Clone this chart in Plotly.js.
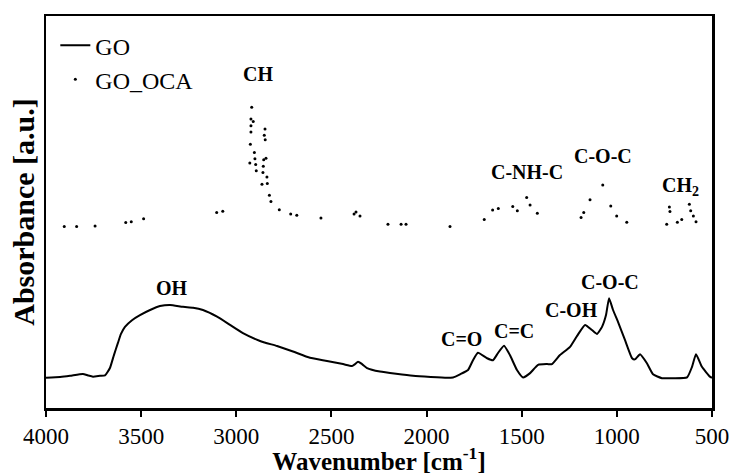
<!DOCTYPE html>
<html>
<head>
<meta charset="utf-8">
<script src="https://cdn.plot.ly/plotly-3.0.1.min.js"></script>
<style>
  html, body { margin: 0; padding: 0; background: #fff; }
  #chart { width: 731px; height: 475px; }
</style>
</head>
<body>
<div id="chart"></div>
<script>
// FTIR spectra: graphene oxide (solid curve) and GO_OCA (scattered points)
const goWavenumber = [
  4000, 3926, 3874, 3806, 3779, 3753, 3716, 3690, 3664, 3643, 3622, 3606, 3585,
  3548, 3506, 3453, 3401, 3348, 3280, 3227, 3175, 3101, 3033, 2965, 2875, 2786,
  2702, 2613, 2523, 2439, 2392, 2376, 2360, 2339, 2313, 2245, 2071, 1893, 1861,
  1824, 1782, 1756, 1730, 1682, 1651, 1625, 1593, 1562, 1525, 1493, 1456, 1414,
  1367, 1341, 1299, 1246, 1209, 1167, 1131, 1104, 1078, 1057, 1041, 1020, 994,
  957, 920, 905, 878, 842, 810, 763, 705, 631, 605, 584, 553, 511, 500
];
const goAbsorbance = [
  0.077, 0.079, 0.082, 0.087, 0.083, 0.080, 0.082, 0.083, 0.102, 0.135, 0.166, 0.189, 0.207,
  0.224, 0.237, 0.250, 0.260, 0.263, 0.258, 0.256, 0.250, 0.233, 0.212, 0.191, 0.171, 0.158,
  0.144, 0.128, 0.120, 0.112, 0.107, 0.112, 0.118, 0.112, 0.102, 0.093, 0.082, 0.077, 0.078,
  0.086, 0.097, 0.122, 0.141, 0.127, 0.122, 0.140, 0.159, 0.135, 0.097, 0.078, 0.089, 0.110,
  0.112, 0.112, 0.135, 0.156, 0.184, 0.212, 0.199, 0.189, 0.207, 0.237, 0.280, 0.250, 0.220,
  0.173, 0.127, 0.124, 0.137, 0.114, 0.086, 0.076, 0.076, 0.078, 0.105, 0.137, 0.105, 0.080, 0.077
];

const ocaWavenumber = [
  3904, 3839, 3742, 3581, 3552, 3487, 3103, 3071,
  2929, 2926, 2923, 2923, 2923, 2919, 2911, 2905, 2902, 2898, 2895,
  2865, 2860, 2858, 2856, 2853, 2849, 2848, 2844, 2839, 2837, 2826, 2818,
  2774, 2714, 2682, 2555, 2381, 2371, 2350, 2203, 2134, 2108, 1877,
  1697, 1653, 1623, 1547, 1523, 1474, 1456, 1418,
  1188, 1174, 1141, 1074, 1032, 1001, 948,
  738, 724, 721, 682, 659, 619, 612, 598, 584
];
const ocaAbsorbance = [
  0.463, 0.463, 0.464, 0.473, 0.475, 0.483, 0.499, 0.502,
  0.625, 0.673, 0.704, 0.720, 0.737, 0.767, 0.731, 0.652, 0.636, 0.621, 0.605,
  0.571, 0.601, 0.617, 0.633, 0.696, 0.712, 0.684, 0.637, 0.589, 0.573, 0.543, 0.527,
  0.506, 0.495, 0.492, 0.485, 0.495, 0.500, 0.490, 0.469, 0.469, 0.469, 0.463,
  0.481, 0.505, 0.509, 0.514, 0.503, 0.537, 0.518, 0.497,
  0.486, 0.499, 0.531, 0.569, 0.515, 0.490, 0.474,
  0.469, 0.513, 0.501, 0.474, 0.481, 0.520, 0.503, 0.490, 0.475
];

// band assignments: label, wavenumber, height
const bandLabels = ['CH', 'C-NH-C', 'C-O-C', 'CH<sub>2</sub>', 'OH', 'C=O', 'C=C', 'C-OH', 'C-O-C'];
const bandX = [2886, 1472, 1073, 663, 3338, 1819, 1541, 1241, 1036];
const bandY = [0.852, 0.602, 0.643, 0.566, 0.306, 0.176, 0.196, 0.250, 0.321];

const xTicks = [4000, 3500, 3000, 2500, 2000, 1500, 1000, 500];

const serif = 'Liberation Serif, Times New Roman, serif';

const traces = [
  {
    x: goWavenumber, y: goAbsorbance, name: 'GO', type: 'scatter', mode: 'lines',
    line: { color: '#000', width: 2, shape: 'spline', smoothing: 0.45 }
  },
  {
    x: ocaWavenumber, y: ocaAbsorbance, name: 'GO_OCA', type: 'scatter', mode: 'markers',
    marker: { color: '#000', size: 3 }
  }
];

const annotations = bandLabels.map((t, i) => ({
  x: bandX[i], y: bandY[i], xref: 'x', yref: 'y',
  text: '<b>' + t + '</b>', showarrow: false,
  font: { family: serif, size: 20, color: '#000' }
}));

const layout = {
  width: 731, height: 475,
  margin: { l: 46, r: 19, t: 16, b: 67 },
  paper_bgcolor: '#fff', plot_bgcolor: '#fff',
  font: { family: serif, color: '#000', size: 23 },
  showlegend: true,
  legend: {
    x: 0.014, y: 0.982, xanchor: 'left', yanchor: 'top',
    bgcolor: 'rgba(0,0,0,0)', font: { family: serif, size: 24 },
    itemwidth: 30, tracegroupgap: 0
  },
  xaxis: {
    range: [4000, 500], autorange: false,
    tickvals: xTicks, ticktext: xTicks.map(String),
    ticks: 'outside', ticklen: 6, tickwidth: 2, tickcolor: '#000',
    showline: true, linewidth: 2.5, linecolor: '#000', mirror: true,
    showgrid: false, zeroline: false,
    tickfont: { family: serif, size: 23 },
    title: { text: '<b>Wavenumber [cm<sup>-1</sup>]</b>', font: { family: serif, size: 25 }, standoff: 6 }
  },
  yaxis: {
    range: [0, 1], autorange: false,
    showticklabels: false, ticks: '',
    showline: true, linewidth: 2.5, linecolor: '#000', mirror: true,
    showgrid: false, zeroline: false,
    title: { text: '<b>Absorbance [a.u.]</b>', font: { family: serif, size: 30 }, standoff: 0 }
  },
  annotations: annotations
};

Plotly.newPlot('chart', traces, layout, { displayModeBar: false, staticPlot: true });
</script>
</body>
</html>
